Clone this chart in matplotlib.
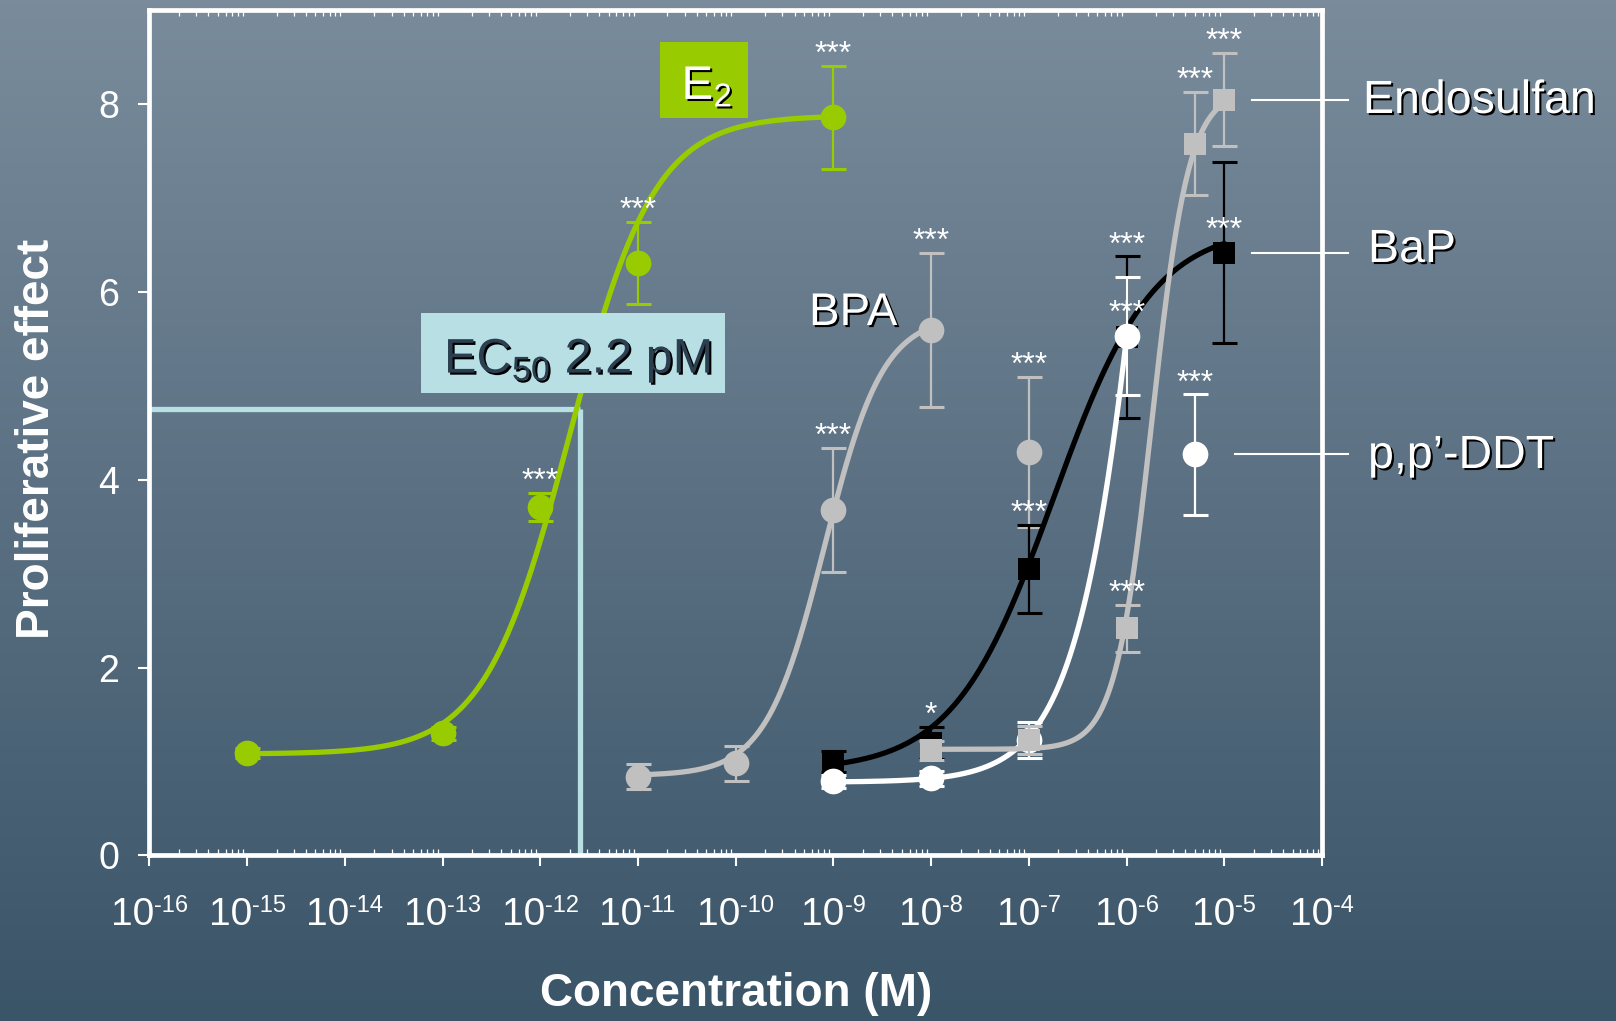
import numpy as np
import matplotlib
matplotlib.use("Agg")
import matplotlib.pyplot as plt
import matplotlib.patheffects as pe
from matplotlib.patches import Rectangle
from matplotlib.ticker import LogLocator, NullFormatter
from matplotlib.transforms import blended_transform_factory

plt.rcParams["font.family"] = ["Liberation Sans", "DejaVu Sans"]
plt.rcParams["mathtext.default"] = "regular"

# ==== DATA (concentration in M, mean proliferative effect, error) ====
e2_conc = [1e-15, 1e-13, 1e-12, 1e-11, 1e-9]
e2_mean = [1.09, 1.30, 3.71, 6.31, 7.86]
e2_err = [0.05, 0.07, 0.15, 0.44, 0.55]
e2_stars = ["", "", "***", "***", "***"]

bpa_conc = [1e-11, 1e-10, 1e-9, 1e-8, 1e-7]
bpa_mean = [0.84, 0.98, 3.68, 5.60, 4.30]
bpa_err = [0.13, 0.19, 0.66, 0.82, 0.80]
bpa_stars = ["", "", "***", "***", "***"]

bap_conc = [1e-9, 1e-8, 1e-7, 1e-6, 1e-5]
bap_mean = [1.00, 1.20, 3.05, 5.52, 6.42]
bap_err = [0.11, 0.17, 0.47, 0.86, 0.96]
bap_stars = ["", "*", "***", "***", "***"]

ddt_conc = [1e-9, 1e-8, 1e-7, 1e-6, 5e-6]
ddt_mean = [0.79, 0.82, 1.23, 5.53, 4.27]
ddt_err = [0.07, 0.08, 0.19, 0.63, 0.64]
ddt_stars = ["", "", "", "***", "***"]

endo_conc = [1e-8, 1e-7, 1e-6, 5e-6, 1e-5]
endo_mean = [1.12, 1.23, 2.42, 7.58, 8.05]
endo_err = [0.10, 0.15, 0.25, 0.55, 0.50]
endo_stars = ["", "", "***", "***", "***"]

# Hill fit parameters: bottom, top, log10 EC50, slope
e2_fit = [1.08, 7.88, -11.70, 1.0]
bpa_fit = [0.85, 5.75, -9.09, 1.45]
bap_fit = [0.90, 6.70, -6.75, 0.85]
ddt_fit = [0.78, 20.0, -5.56, 1.10]
endo_fit = [1.13, 8.15, -5.74, 2.30]

# EC50 marker lines for E2
ec50_conc = 2.55e-12
ec50_level = 4.75

decades = list(range(-16, -3))
y_ticks = [0, 2, 4, 6, 8]


def hill(x, bottom, top, logec, slope):
    return bottom + (top - bottom) / (1 + 10 ** ((logec - np.log10(x)) * slope))


series = [
    dict(conc=bpa_conc, mean=bpa_mean, err=bpa_err, stars=bpa_stars, fit=bpa_fit, nfit=4,
         color="#c0c0c0", marker="o", ms=18.5, z=2, star_at=["cap"] * 5),
    dict(conc=bap_conc, mean=bap_mean, err=bap_err, stars=bap_stars, fit=bap_fit, nfit=5,
         color="black", marker="s", ms=15.5, z=3, star_at=["cap", "cap", "cap", "cap", "mark"]),
    dict(conc=ddt_conc, mean=ddt_mean, err=ddt_err, stars=ddt_stars, fit=ddt_fit, nfit=4,
         color="white", marker="o", ms=18.5, z=4, star_at=["cap", "cap", "cap", "mark", "cap"]),
    dict(conc=endo_conc, mean=endo_mean, err=endo_err, stars=endo_stars, fit=endo_fit, nfit=5,
         color="#c0c0c0", marker="s", ms=16, z=5, star_at=["cap"] * 5),
    dict(conc=e2_conc, mean=e2_mean, err=e2_err, stars=e2_stars, fit=e2_fit, nfit=5,
         color="#99cc00", marker="o", ms=18.5, z=6, star_at=["cap"] * 5),
]

# ==== FIGURE ====
fig = plt.figure(figsize=(16.16, 10.21), dpi=100)

# background gradient
bg = fig.add_axes([0, 0, 1, 1], zorder=-10)
top_c = np.array([122, 140, 156]) / 255
bot_c = np.array([58, 84, 104]) / 255
t = np.linspace(0, 1, 256)[:, None]
grad = top_c[None, :] * (1 - t) + bot_c[None, :] * t
bg.imshow(grad[:, None, :], aspect="auto", extent=[0, 1, 0, 1])
bg.axis("off")

ax = fig.add_axes([0.0925, 0.1622, 0.7256, 0.8277])
ax.set_facecolor("none")
ax.set_xscale("log")

for s in series:
    c = np.array(s["conc"])
    m = np.array(s["mean"])
    e = np.array(s["err"])
    n = s["nfit"]
    xf = np.logspace(np.log10(c[0]), np.log10(c[n - 1]), 300)
    ax.plot(xf, hill(xf, *s["fit"]), color=s["color"], lw=3.8, zorder=s["z"],
            solid_capstyle="round")
    ax.errorbar(c, m, yerr=e, fmt="none", ecolor=s["color"], elinewidth=1.6,
                capsize=9, capthick=2.2, zorder=s["z"])
    ax.plot(c, m, ls="none", marker=s["marker"], ms=s["ms"], mew=0,
            color=s["color"], zorder=s["z"] + 0.1)
    for xi, mi, ei, st, at in zip(c, m, e, s["stars"], s["star_at"]):
        if not st:
            continue
        if at == "cap":
            y, dy = mi + ei, 2
        else:
            y, dy = mi, 10
        ax.annotate(st, (xi, y), xytext=(0, dy), textcoords="offset points",
                    ha="center", va="baseline", color="white", fontsize=23, zorder=9)

# EC50 guide lines and box
ec_col = "#b8e0e4"
ax.plot([1e-16, ec50_conc], [ec50_level, ec50_level], color=ec_col, lw=3.8, zorder=1.5,
        solid_capstyle="butt")
ax.plot([ec50_conc, ec50_conc], [0, ec50_level], color=ec_col, lw=3.8, zorder=1.5,
        solid_capstyle="butt")
ax.add_patch(Rectangle((0.2312, 0.5468), 0.2595, 0.0954, transform=ax.transAxes,
                       facecolor=ec_col, edgecolor="none", zorder=7))
shadow = [pe.withSimplePatchShadow(offset=(1.5, -1.5), shadow_rgbFace="black", alpha=1)]
ax.text(0.2512, 0.5712, "EC$_{50}$ 2.2 pM", transform=ax.transAxes, fontsize=35,
        color="#2b3f50", ha="left", va="baseline", zorder=8, path_effects=shadow)

# E2 label box
ax.add_patch(Rectangle((0.4354, 0.8726), 0.075, 0.0899, transform=ax.transAxes,
                       facecolor="#99cc00", edgecolor="none", zorder=7))
ax.text(0.4538, 0.895, "E$_2$", transform=ax.transAxes, fontsize=34, color="white",
        ha="left", va="baseline", zorder=8, path_effects=shadow)

# series labels
ax.text(0.5625, 0.6276, "BPA", transform=ax.transAxes, fontsize=33, color="white",
        ha="left", va="baseline", zorder=8, path_effects=shadow)
bt = blended_transform_factory(ax.transAxes, ax.transData)
leaders = [("Endosulfan", endo_mean[-1], 0.940, 0.8785, 1.0349),
           ("BaP", bap_mean[-1], 0.940, 0.7022, 1.0392),
           ("p,p\u2019-DDT", ddt_mean[-1], 0.9258, 0.4584, 1.0392)]
for name, yv, x0, ty, tx in leaders:
    ax.plot([x0, 1.0221], [yv, yv], color="white", lw=1.5, transform=bt, clip_on=False,
            zorder=8)
    ax.text(tx, ty, name, transform=ax.transAxes, fontsize=33.5, color="white",
            ha="left", va="baseline", path_effects=shadow)

# axes styling
ax.set_xlim(1e-16, 1e-4)
ax.set_ylim(0, 9)
for sp in ax.spines.values():
    sp.set_color("white")
    sp.set_linewidth(3.4)

ax.xaxis.set_major_locator(LogLocator(base=10, numticks=30))
ax.xaxis.set_minor_locator(LogLocator(base=10, subs=np.arange(2, 10), numticks=200))
ax.xaxis.set_major_formatter(NullFormatter())
ax.xaxis.set_minor_formatter(NullFormatter())
ax.tick_params(axis="x", which="major", direction="out", bottom=True, top=False,
               length=8, width=1.5, color="white")
ax.tick_params(axis="x", which="minor", direction="in", bottom=True, top=True,
               length=4, width=0.9, color="white")
ax.set_yticks(y_ticks)
ax.tick_params(axis="y", direction="out", left=True, right=False, length=8, width=1.5,
               colors="white", labelsize=27, pad=14)

# tick labels like 10^-16 with a plain hyphen
for d in decades:
    exp = str(d)
    w10 = 1.112 * 28
    wexp = (0.333 + 0.556 * (len(exp) - 1)) * 17
    left = -(w10 + wexp) / 2
    ax.annotate("10", (10.0 ** d, 0), xycoords=("data", "axes fraction"),
                xytext=(left, -50), textcoords="offset points", fontsize=28,
                color="white", ha="left", va="baseline", annotation_clip=False)
    ax.annotate(exp, (10.0 ** d, 0), xycoords=("data", "axes fraction"),
                xytext=(left + w10, -40.7), textcoords="offset points", fontsize=17,
                color="white", ha="left", va="baseline", annotation_clip=False)

ax.set_xlabel("Concentration (M)", fontsize=33, fontweight="bold", color="white",
              va="center")
ax.xaxis.set_label_coords(0.5, -0.164)
ax.set_ylabel("Proliferative effect", fontsize=33, fontweight="bold", color="white",
              va="center")
ax.yaxis.set_label_coords(-0.0959, 0.493)

fig.savefig("out.png", dpi=100)
